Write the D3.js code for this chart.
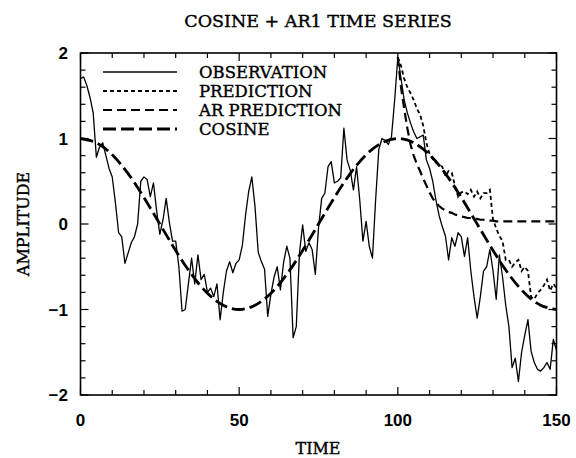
<!DOCTYPE html>
<html>
<head>
<meta charset="utf-8">
<script src="https://cdn.jsdelivr.net/npm/d3@7"></script>
<style>
  body { margin: 0; background: #fff; }
  text { fill: #000; }
</style>
</head>
<body>
<svg id="chart" width="576" height="458"></svg>
<script>
// observation, one value per time step 0..150
var obs = [
  1.70, 1.72, 1.62, 1.48, 1.30, 0.78, 0.90, 0.95, 0.80, 0.65,
  0.55, 0.25, -0.10, -0.15, -0.46, -0.34, -0.22, -0.15, 0.00, 0.50,
  0.55, 0.52, 0.32, 0.48, 0.15, -0.12, 0.05, 0.30, 0.02, -0.20,
  -0.20, -0.50, -1.02, -1.00, -0.70, -0.40, -0.70, -0.36, -0.65, -0.59,
  -0.80, -0.75, -0.85, -0.70, -1.12, -0.80, -0.55, -0.44, -0.57, -0.46,
  -0.42, -0.25, 0.10, 0.38, 0.55, 0.20, -0.33, -0.44, -0.53, -1.08,
  -0.82, -0.62, -0.50, -0.77, -0.45, -0.26, -0.40, -1.33, -1.20, -0.34,
  -0.01, -0.32, -0.22, -0.30, -0.59, -0.05, 0.30, 0.36, 0.67, 0.73,
  0.48, 0.50, 0.54, 1.12, 0.75, 0.63, 0.40, 0.67, 0.28, -0.20,
  0.03, -0.26, -0.40, 0.28, 0.87, 1.00, 0.98, 0.93, 1.02, 1.45,
  1.95, 1.70, 1.45, 1.30, 1.18, 1.08, 1.00, 1.02, 1.04, 0.75,
  0.65, 0.50, 0.28, 0.10, -0.03, -0.14, -0.42, -0.16, -0.26, -0.10,
  -0.15, -0.38, -0.16, -0.55, -0.85, -1.10, -0.85, -0.55, -0.50, -0.30,
  -0.55, -0.88, -0.36, -0.62, -0.95, -1.20, -1.68, -1.57, -1.84, -1.50,
  -1.30, -1.12, -1.49, -1.62, -1.70, -1.72, -1.68, -1.62, -1.70, -1.35,
  -1.48
];

// predictions start at time 100
var predStart = 100;
var pred = [
  1.95, 1.85, 1.70, 1.60, 1.53, 1.45, 1.35, 1.28, 1.15, 0.95,
  0.82, 0.76, 0.72, 0.70, 0.67, 0.56, 0.62, 0.60, 0.45, 0.32,
  0.37, 0.38, 0.35, 0.40, 0.32, 0.38, 0.30, 0.36, 0.36, 0.40,
  0.05, -0.05, -0.14, -0.20, -0.42, -0.42, -0.50, -0.45, -0.42, -0.55,
  -0.50, -0.55, -0.85, -0.88, -0.81, -0.77, -0.72, -0.65, -0.78, -0.70,
  -0.75
];
var arPred = [
  1.95, 1.60, 1.35, 1.12, 0.93, 0.80, 0.70, 0.62, 0.53, 0.45,
  0.37, 0.30, 0.25, 0.21, 0.18, 0.16, 0.14, 0.13, 0.11, 0.10,
  0.09, 0.08, 0.07, 0.07, 0.06, 0.06, 0.05, 0.05, 0.04, 0.04,
  0.04, 0.03, 0.03, 0.03, 0.03, 0.03, 0.03, 0.03, 0.03, 0.03,
  0.03, 0.03, 0.03, 0.03, 0.03, 0.03, 0.03, 0.03, 0.03, 0.03,
  0.03
];

// cosine, sampled every 5 time units
var cosTime = [0,5,10,15,20,25,30,35,40,45,50,55,60,65,70,75,80,85,90,95,100,105,110,115,120,125,130,135,140,145,150];
var cosVal = [1, 0.95, 0.81, 0.59, 0.31, 0, -0.31, -0.59, -0.81, -0.95, -1, -0.95, -0.81, -0.59, -0.31, 0,
              0.31, 0.59, 0.81, 0.95, 1, 0.95, 0.81, 0.59, 0.31, 0, -0.31, -0.59, -0.81, -0.95, -1];

var xTicks = [0, 50, 100, 150];
var yTicks = [-2, -1, 0, 1, 2];
var legendNames = ["OBSERVATION", "PREDICTION", "AR PREDICTION", "COSINE"];

function draw() {
  var svg = d3.select("#chart");
  var left = 80.5, right = 556.5, plotTop = 53, bottom = 395;

  var x = d3.scaleLinear().domain([0, 150]).range([left, right]);
  var y = d3.scaleLinear().domain([-2, 2]).range([bottom, plotTop]);

  var serif = "'DejaVu Serif', serif";
  var sans = "'Liberation Sans', Arial, sans-serif";

  // frame
  svg.append("rect")
    .attr("x", left).attr("y", plotTop)
    .attr("width", right - left).attr("height", bottom - plotTop)
    .attr("fill", "none").attr("stroke", "#000").attr("stroke-width", 1.6);

  // inward ticks on all sides
  var xMinor = d3.range(0, 151, 10);
  var yMinor = d3.range(-2, 2.001, 0.2);
  function tickLen(isMajor) { return isMajor ? 8 : 5; }

  var tg = svg.append("g").attr("stroke", "#000").attr("stroke-width", 1.2);
  xMinor.forEach(function(v) {
    var L = tickLen(v % 50 == 0);
    tg.append("line").attr("x1", x(v)).attr("x2", x(v)).attr("y1", bottom).attr("y2", bottom - L);
    tg.append("line").attr("x1", x(v)).attr("x2", x(v)).attr("y1", plotTop).attr("y2", plotTop + L);
  });
  yMinor.forEach(function(v) {
    var L = tickLen(Math.abs(v - Math.round(v)) < 1e-6);
    tg.append("line").attr("y1", y(v)).attr("y2", y(v)).attr("x1", left).attr("x2", left + L);
    tg.append("line").attr("y1", y(v)).attr("y2", y(v)).attr("x1", right).attr("x2", right - L);
  });

  // tick labels
  svg.append("g").selectAll("text").data(xTicks).enter().append("text")
    .attr("x", d => x(d)).attr("y", 426)
    .attr("text-anchor", "middle")
    .style("font-family", sans).style("font-size", "17px").style("font-weight", "bold")
    .text(d => d);
  svg.append("g").selectAll("text").data(yTicks).enter().append("text")
    .attr("x", 68).attr("y", d => y(d) + 6)
    .attr("text-anchor", "end")
    .style("font-family", sans).style("font-size", "17px").style("font-weight", "bold")
    .text(d => d < 0 ? "\u2212" + Math.abs(d) : d);

  // titles
  svg.append("text").attr("x", 318).attr("y", 27).attr("text-anchor", "middle")
    .style("font-family", serif).style("font-size", "17.5px")
    .attr("stroke", "#000").attr("stroke-width", 0.4)
    .text("COSINE + AR1 TIME SERIES");
  svg.append("text").attr("x", 318).attr("y", 454).attr("text-anchor", "middle")
    .style("font-family", serif).style("font-size", "16px")
    .attr("stroke", "#000").attr("stroke-width", 0.4)
    .text("TIME");
  svg.append("text").attr("transform", "translate(29,224) rotate(-90)").attr("text-anchor", "middle")
    .style("font-family", serif).style("font-size", "16px")
    .attr("stroke", "#000").attr("stroke-width", 0.4)
    .text("AMPLITUDE");

  // series
  var styles = [
    { dash: null, width: 1.3 },
    { dash: "4,3", width: 1.8 },
    { dash: "9,5", width: 2.2 },
    { dash: "13,5", width: 2.8 }
  ];

  var line = d3.line().x(d => x(d[0])).y(d => y(d[1]));
  var plot = svg.append("g");

  var obsPts = obs.map((v, i) => [i, v]);
  var predPts = pred.map((v, i) => [predStart + i, v]);
  var arPts = arPred.map((v, i) => [predStart + i, v]);
  var cosPts = cosTime.map((t, i) => [t, cosVal[i]]);

  var cosLine = d3.line().x(d => x(d[0])).y(d => y(d[1])).curve(d3.curveNatural);

  plot.append("path").attr("d", cosLine(cosPts))
    .attr("fill", "none").attr("stroke", "#000")
    .attr("stroke-width", styles[3].width).attr("stroke-dasharray", styles[3].dash);
  plot.append("path").attr("d", line(arPts))
    .attr("fill", "none").attr("stroke", "#000")
    .attr("stroke-width", styles[2].width).attr("stroke-dasharray", styles[2].dash);
  plot.append("path").attr("d", line(predPts))
    .attr("fill", "none").attr("stroke", "#000")
    .attr("stroke-width", styles[1].width).attr("stroke-dasharray", styles[1].dash);
  plot.append("path").attr("d", line(obsPts))
    .attr("fill", "none").attr("stroke", "#000")
    .attr("stroke-width", styles[0].width).attr("stroke-linejoin", "round");

  // legend
  var lg = svg.append("g");
  legendNames.forEach(function(name, i) {
    var ly = 72 + i * 19;
    lg.append("line").attr("x1", 103).attr("x2", 177).attr("y1", ly).attr("y2", ly)
      .attr("stroke", "#000").attr("stroke-width", styles[i].width)
      .attr("stroke-dasharray", styles[i].dash);
    lg.append("text").attr("x", 199).attr("y", ly + 6)
      .style("font-family", serif).style("font-size", "16.5px")
      .attr("stroke", "#000").attr("stroke-width", 0.4)
      .text(name);
  });
}

draw();
</script>
</body>
</html>
